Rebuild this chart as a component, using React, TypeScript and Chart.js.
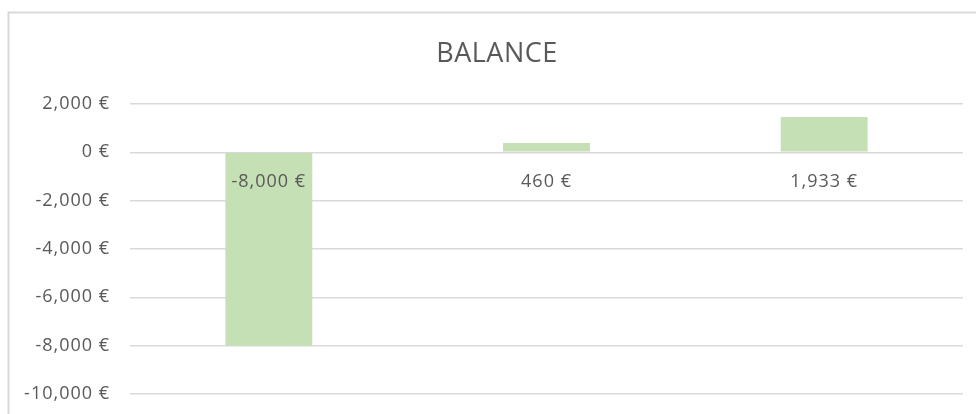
import React, { useEffect, useRef } from "react";
import { Chart, registerables } from "chart.js";

Chart.register(...registerables);

const categories = ["1", "2", "3"];
const barValues = [-8000, 390, 1460];
const dataLabels = ["-8,000 €", "460 €", "1,933 €"];
const titleText = "BALANCE";
const yMin = -10000;
const yMax = 2000;
const yStep = 2000;

const FONT = "'Open Sans', sans-serif";
const TEXT = "#595959";
const GRID = "#d9d9d9";

const decor = {
  id: "decor",
  beforeDraw(chart: any) {
    (chart.ctx as any).letterSpacing = "1px";
  },
  afterDraw(chart: any) {
    const ctx = chart.ctx as CanvasRenderingContext2D;
    const y = chart.scales.y;
    const x = chart.scales.x;
    ctx.save();
    // frame
    ctx.strokeStyle = GRID;
    ctx.lineWidth = 2;
    ctx.beginPath();
    ctx.moveTo(8.5, 414);
    ctx.lineTo(8.5, 12.5);
    ctx.lineTo(976, 12.5);
    ctx.stroke();
    // title
    (ctx as any).letterSpacing = "0.5px";
    ctx.fillStyle = TEXT;
    ctx.font = `27px ${FONT}`;
    ctx.textAlign = "center";
    ctx.textBaseline = "alphabetic";
    ctx.fillText(titleText, 497, 62);
    // data labels
    (ctx as any).letterSpacing = "1px";
    ctx.font = `18px ${FONT}`;
    const zero = y.getPixelForValue(0);
    dataLabels.forEach((t, i) => {
      ctx.fillText(t, x.getPixelForValue(i), zero + 35);
    });
    ctx.restore();
  },
};

export default function App() {
  const ref = useRef<HTMLCanvasElement>(null);
  useEffect(() => {
    if (!ref.current) return;
    const chart = new Chart(ref.current, {
      type: "bar",
      data: {
        labels: categories,
        datasets: [
          {
            data: barValues,
            backgroundColor: "#c5e0b4",
            borderWidth: 0,
            barPercentage: 0.313,
            categoryPercentage: 1,
          },
        ],
      },
      options: {
        animation: false,
        responsive: true,
        maintainAspectRatio: false,
        layout: { padding: { left: 0, top: 104, right: 13, bottom: 20 } },
        plugins: {
          legend: { display: false },
          tooltip: { enabled: false },
          title: { display: false },
        },
        scales: {
          x: { display: false },
          y: {
            min: yMin,
            max: yMax,
            afterFit: (s: any) => {
              s.width = 130;
              s.paddingTop = 0;
              s.paddingBottom = 0;
            },
            border: { display: false },
            grid: { color: GRID, lineWidth: 1.5, drawTicks: false },
            ticks: {
              stepSize: yStep,
              padding: 20,
              color: TEXT,
              font: { family: FONT, size: 18 },
              callback: (v: any) => Number(v).toLocaleString("en-US") + " €",
            },
          },
        },
      },
      plugins: [decor],
    });
    return () => chart.destroy();
  }, []);
  return (
    <div style={{ position: "fixed", left: 0, top: 0, width: 976, height: 414, background: "#fff" }}>
      <canvas ref={ref} />
    </div>
  );
}
